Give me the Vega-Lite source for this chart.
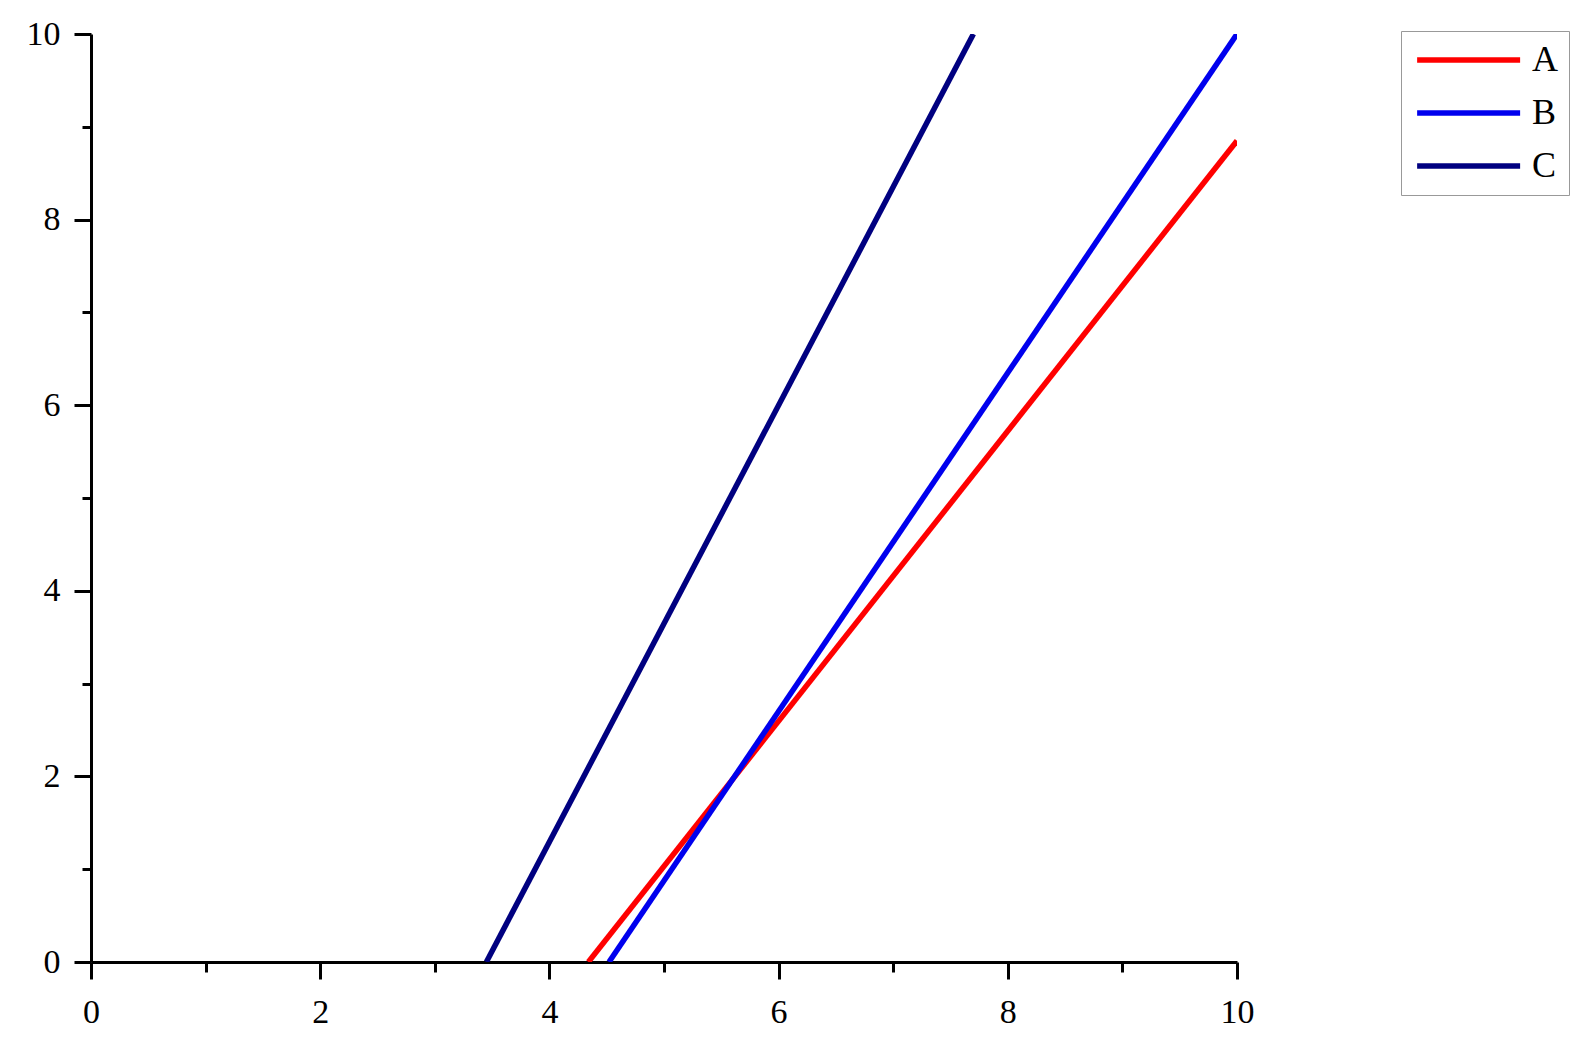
{
  "$schema": "https://vega.github.io/schema/vega-lite/v6.json",
  "width": 1146,
  "height": 928,
  "autosize": {"type": "none"},
  "padding": {"left": 91, "top": 34, "right": 351, "bottom": 93},
  "background": "white",
  "config": {"view": {"stroke": null}, "font": "Liberation Serif"},
  "data": {
    "values": [
      {"x": 4.34, "y": 0, "series": "A"},
      {"x": 10, "y": 8.85, "series": "A"},
      {"x": 4.52, "y": 0, "series": "B"},
      {"x": 10, "y": 10, "series": "B"},
      {"x": 3.45, "y": 0, "series": "C"},
      {"x": 7.7, "y": 10, "series": "C"}
    ]
  },
  "mark": {"type": "line", "strokeWidth": 5.5, "clip": true},
  "encoding": {
    "x": {
      "field": "x",
      "type": "quantitative",
      "scale": {"domain": [0, 10], "nice": false, "zero": false},
      "axis": {
        "title": null,
        "grid": false,
        "values": [0, 1, 2, 3, 4, 5, 6, 7, 8, 9, 10],
        "labelExpr": "datum.value % 2 === 0 ? datum.label : ''",
        "labelOverlap": false,
        "labelFlush": false,
        "domainColor": "black",
        "domainWidth": 3,
        "tickColor": "black",
        "tickWidth": 3,
        "tickSize": {"condition": {"test": "datum.value % 2 === 0", "value": 17}, "value": 10},
        "labelFont": "Liberation Serif",
        "labelFontSize": 34,
        "labelColor": "black",
        "labelPadding": 16
      }
    },
    "y": {
      "field": "y",
      "type": "quantitative",
      "scale": {"domain": [0, 10], "nice": false},
      "axis": {
        "title": null,
        "grid": false,
        "values": [0, 1, 2, 3, 4, 5, 6, 7, 8, 9, 10],
        "labelExpr": "datum.value % 2 === 0 ? datum.label : ''",
        "labelOverlap": false,
        "labelFlush": false,
        "domainColor": "black",
        "domainWidth": 3,
        "tickColor": "black",
        "tickWidth": 3,
        "tickSize": {"condition": {"test": "datum.value % 2 === 0", "value": 17}, "value": 9},
        "labelFont": "Liberation Serif",
        "labelFontSize": 34,
        "labelColor": "black",
        "labelPadding": 14
      }
    },
    "color": {
      "field": "series",
      "type": "nominal",
      "scale": {"domain": ["A", "B", "C"], "range": ["#ff0000", "#0000ee", "#000080"]},
      "legend": {
        "title": null,
        "orient": "none",
        "legendX": 1310,
        "legendY": -3,
        "symbolType": "M-1,0H7",
        "symbolSize": 663,
        "symbolStrokeWidth": 5.5,
        "labelFont": "Liberation Serif",
        "labelFontSize": 36,
        "labelColor": "black",
        "labelOffset": 84,
        "rowPadding": 17,
        "padding": 11,
        "strokeColor": "#999999",
        "fillColor": "white"
      }
    }
  }
}
